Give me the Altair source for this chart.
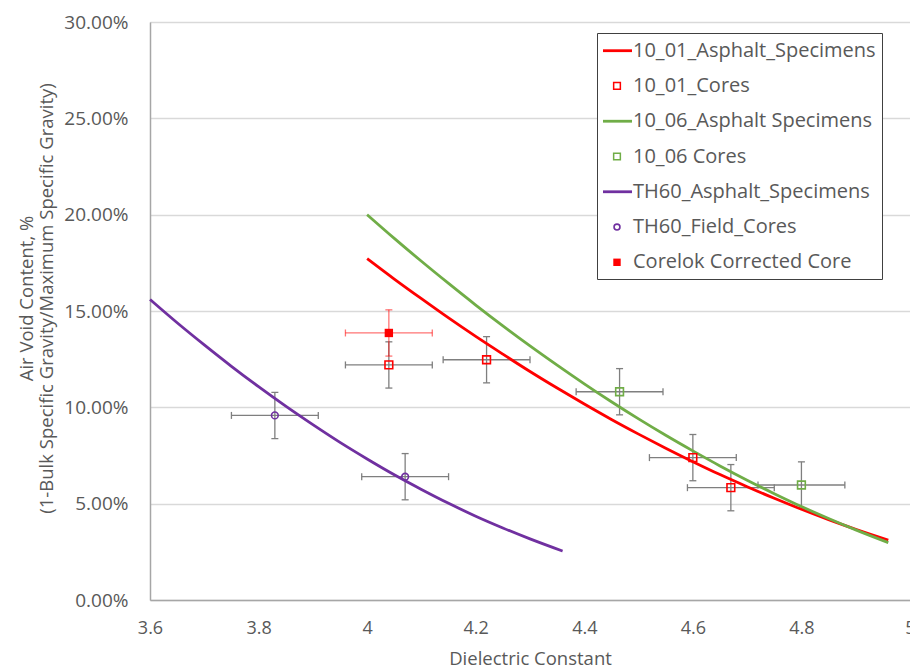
import altair as alt
import pandas as pd

# ---------------- data ----------------
# fitted curves (x = dielectric constant, y = air voids in %)
red_x = [4.00, 4.05, 4.10, 4.15, 4.20, 4.25, 4.30, 4.35, 4.40, 4.45,
         4.50, 4.55, 4.60, 4.65, 4.70, 4.75, 4.80, 4.85, 4.90, 4.96]
red_y = [17.72, 16.66, 15.64, 14.64, 13.68, 12.76, 11.86, 11.00, 10.17, 9.37,
         8.61, 7.88, 7.18, 6.51, 5.88, 5.28, 4.71, 4.17, 3.67, 3.11]

green_x = [4.00, 4.05, 4.10, 4.15, 4.20, 4.25, 4.30, 4.35, 4.40, 4.45,
           4.50, 4.55, 4.60, 4.65, 4.70, 4.75, 4.80, 4.85, 4.90, 4.96]
green_y = [20.00, 18.77, 17.58, 16.43, 15.31, 14.23, 13.19, 12.19, 11.22, 10.29,
           9.40, 8.55, 7.74, 6.96, 6.22, 5.52, 4.85, 4.23, 3.64, 2.98]

purple_x = [3.60, 3.65, 3.70, 3.75, 3.80, 3.85, 3.90, 3.95, 4.00, 4.05,
            4.10, 4.15, 4.20, 4.25, 4.30, 4.36]
purple_y = [15.60, 14.39, 13.24, 12.13, 11.07, 10.06, 9.10, 8.18, 7.32, 6.50,
            5.74, 5.02, 4.35, 3.74, 3.17, 2.54]

# cores with error bars
cores1001_x = [4.04, 4.22, 4.60, 4.67]
cores1001_y = [12.20, 12.47, 7.39, 5.83]
cores1006_x = [4.465, 4.80]
cores1006_y = [10.81, 5.97]
th60_x = [3.83, 4.07]
th60_y = [9.58, 6.40]
corelok_x = [4.04]
corelok_y = [13.86]
x_err = 0.08
y_err = 1.20

series_names = ["10_01_Asphalt_Specimens", "10_01_Cores", "10_06_Asphalt Specimens",
                "10_06 Cores", "TH60_Asphalt_Specimens", "TH60_Field_Cores",
                "Corelok Corrected Core"]
series_colors = ["#FF0000", "#FF0000", "#70AD47", "#70AD47", "#7030A0", "#7030A0", "#FF0000"]

x_ticks = [3.6, 3.8, 4.0, 4.2, 4.4, 4.6, 4.8, 5.0]
y_ticks = [0.0, 0.05, 0.10, 0.15, 0.20, 0.25, 0.30]

# ---------------- tables ----------------
def curve(xs, ys, name):
    return pd.DataFrame({"x": xs, "y": [v / 100 for v in ys], "series": name})

def pts(xs, ys, name):
    return pd.DataFrame({
        "x": xs, "y": [v / 100 for v in ys], "series": name,
        "xlo": [v - x_err for v in xs], "xhi": [v + x_err for v in xs],
        "ylo": [(v - y_err) / 100 for v in ys], "yhi": [(v + y_err) / 100 for v in ys],
    })

red_df = curve(red_x, red_y, series_names[0])
green_df = curve(green_x, green_y, series_names[2])
purple_df = curve(purple_x, purple_y, series_names[4])

c1001 = pts(cores1001_x, cores1001_y, series_names[1])
c1006 = pts(cores1006_x, cores1006_y, series_names[3])
cth60 = pts(th60_x, th60_y, series_names[5])
ccore = pts(corelok_x, corelok_y, series_names[6])
gray_err = pd.concat([c1001, c1006, cth60], ignore_index=True)

FONT = "Open Sans"
TXT = "#595959"

xs = alt.Scale(domain=[3.6, 5.0], nice=False, zero=False)
ys = alt.Scale(domain=[0, 0.30], nice=False)

X = lambda f: alt.X(f"{f}:Q", scale=xs,
                    axis=alt.Axis(values=x_ticks, format="~g", title="Dielectric Constant",
                                  grid=False, ticks=False, labelPadding=19,
                                  labelFlush=False, labelOverlap=False,
                                  domainColor="#a6a6a6", domainWidth=1.5,
                                  labelColor=TXT, labelFontSize=18, labelFont=FONT,
                                  titleColor=TXT, titleFontSize=18.5, titleFont=FONT,
                                  titleFontWeight="normal", titleY=64,
                                  titleBaseline="alphabetic"))
Y = lambda f: alt.Y(f"{f}:Q", scale=ys,
                    axis=alt.Axis(values=y_ticks, format=".2%",
                                  title=["Air Void Content, %",
                                         "(1-Bulk Specific Gravity/Maximum Specific Gravity)"],
                                  grid=True, gridColor="#d9d9d9", gridWidth=1.3,
                                  ticks=False, labelPadding=22, labelOverlap=False,
                                  domainColor="#a6a6a6", domainWidth=1.5,
                                  labelColor=TXT, labelFontSize=19, labelFont=FONT,
                                  titleColor=TXT, titleFontSize=18.5, titleFont=FONT,
                                  titleFontWeight="normal", titleAngle=-90,
                                  titleX=-133, titleY=276, titleBaseline="top",
                                  titleAlign="center", titleLineHeight=20))

def errbars(df, color, opacity):
    base = alt.Chart(df)
    h = base.mark_rule(color=color, strokeWidth=1.3, opacity=opacity).encode(
        x=X("xlo"), x2="xhi", y=Y("y"))
    v = base.mark_rule(color=color, strokeWidth=1.3, opacity=opacity).encode(
        x=X("x"), y=Y("ylo"), y2="yhi")
    cl = base.mark_tick(orient="vertical", color=color, size=7, thickness=1.3,
                        opacity=opacity).encode(x=X("xlo"), y=Y("y"))
    cr = base.mark_tick(orient="vertical", color=color, size=7, thickness=1.3,
                        opacity=opacity).encode(x=X("xhi"), y=Y("y"))
    cb = base.mark_tick(orient="horizontal", color=color, size=7, thickness=1.3,
                        opacity=opacity).encode(x=X("x"), y=Y("ylo"))
    ct = base.mark_tick(orient="horizontal", color=color, size=7, thickness=1.3,
                        opacity=opacity).encode(x=X("x"), y=Y("yhi"))
    return [h, v, cl, cr, cb, ct]

def line(df, color):
    return alt.Chart(df).mark_line(color=color, strokeWidth=2.8,
                                   interpolate="monotone").encode(x=X("x"), y=Y("y"))

def marks(df, color, shape, filled, size):
    return alt.Chart(df).mark_point(shape=shape, filled=filled, color=color,
                                    size=size, strokeWidth=1.6, opacity=1).encode(
        x=X("x"), y=Y("y"))

main = alt.layer(
    *errbars(gray_err, "#7f7f7f", 1.0),
    *errbars(ccore, "#FF0000", 0.55),
    line(red_df, "#FF0000"),
    line(green_df, "#70AD47"),
    line(purple_df, "#7030A0"),
    marks(c1001, "#FF0000", "square", False, 60),
    marks(c1006, "#70AD47", "square", False, 60),
    marks(cth60, "#7030A0", "circle", False, 45),
    marks(ccore, "#FF0000", "square", True, 70),
)

# ---------------- legend (drawn as a layer) ----------------
leg = pd.DataFrame({"idx": list(range(7)), "label": series_names,
                    "kind": ["line", "osq", "line", "osq", "line", "ocirc", "fsq"]})
ly = alt.Y("idx:O", scale=alt.Scale(type="point", domain=list(range(7)),
                                    range=[28.7, 240.3], padding=0), axis=None)
lc = alt.Color("label:N", scale=alt.Scale(domain=series_names, range=series_colors),
               legend=None)
lbase = alt.Chart(leg)
legend = alt.layer(
    alt.Chart(pd.DataFrame({"a": [0]})).mark_rect(fill="white", stroke="#404040",
                                                  strokeWidth=1).encode(
        x=alt.value(447.5), x2=alt.value(732.5), y=alt.value(11.5), y2=alt.value(257.5)),
    lbase.transform_filter("datum.kind == 'line'").mark_rule(strokeWidth=2.8).encode(
        x=alt.value(453), x2=alt.value(482), y=ly, color=lc),
    lbase.transform_filter("datum.kind == 'osq'").mark_point(
        shape="square", filled=False, size=45, strokeWidth=1.5, opacity=1).encode(
        x=alt.value(467), y=ly, color=lc),
    lbase.transform_filter("datum.kind == 'ocirc'").mark_point(
        shape="circle", filled=False, size=35, strokeWidth=1.6, opacity=1).encode(
        x=alt.value(467), y=ly, color=lc),
    lbase.transform_filter("datum.kind == 'fsq'").mark_point(
        shape="square", filled=True, size=55, opacity=1).encode(
        x=alt.value(467), y=ly, color=lc),
    lbase.mark_text(align="left", baseline="middle", font=FONT, fontSize=20,
                    color=TXT).encode(x=alt.value(483), y=ly, text="label:N"),
).resolve_scale(color="shared")

chart = alt.layer(main, legend).resolve_scale(y="independent", color="independent").properties(
    width=760, height=578,
    autosize=alt.AutoSizeParams(type="none"),
    padding={"left": 142, "top": 14, "right": 0, "bottom": 69},
).configure_view(stroke="#d9d9d9", strokeWidth=1).configure(background="white")

chart.save("out.html", embed_options={"renderer": "svg", "actions": False})
